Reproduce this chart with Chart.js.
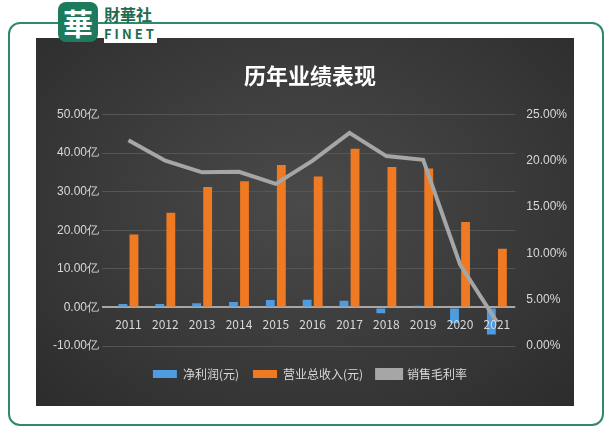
<!DOCTYPE html>
<html><head><meta charset="utf-8">
<script src="https://cdn.jsdelivr.net/npm/chart.js"></script>
<style>
body{margin:0;width:612px;height:448px;background:#fff;position:relative;overflow:hidden;font-family:"Noto Sans CJK SC",sans-serif}
#frame{position:absolute;left:8px;top:22px;width:592px;height:400px;border:2px solid #2f8a6c;border-radius:12px;background:#fff}
#panel{position:absolute;left:36px;top:38px;width:538px;height:368px;background:radial-gradient(ellipse at 50% 45%,#4a4a4a 0%,#3a3a3a 55%,#2c2c2c 100%)}
#logo{position:absolute;left:58px;top:2px;width:40px;height:40px;background:#1e7a5c;border-radius:8px;color:#fff;font-size:30px;line-height:40px;text-align:center;font-weight:bold}
#lt{position:absolute;left:104px;top:6px;color:#1e6b50;font-size:16px;font-weight:bold;line-height:16px;background:#fff}
#lt2{position:absolute;left:104px;top:24px;color:#1e6b50;font-size:13px;font-weight:bold;letter-spacing:3px;background:#fff}
#c{position:absolute;left:36px;top:38px}
</style></head><body>
<div id="frame"></div><div id="panel"></div>
<div id="logo">華</div><div id="lt">財華社</div><div id="lt2">FINET</div>
<canvas id="c" width="538" height="368"></canvas>
<script>
const years=["2011","2012","2013","2014","2015","2016","2017","2018","2019","2020","2021"];
const netProfit=[0.9,0.9,1.1,1.4,1.9,2.0,1.7,-1.5,0.4,-4.1,-7.0];
const revenue=[18.9,24.5,31.2,32.7,36.9,33.9,41.1,36.4,36.0,22.1,15.2];
const grossMargin=[22.2,20.0,18.75,18.8,17.5,20.0,23.0,20.5,20.1,8.8,2.6];
const fc='#d9d9d9';
const xLabels={id:'xLabels',afterDatasetsDraw(ch){const c=ch.ctx,x=ch.scales.x,y=ch.scales.y;const y0=y.getPixelForValue(0)+17;
 c.save();c.fillStyle=fc;c.font='12px "Noto Sans CJK SC"';c.textAlign='center';c.textBaseline='middle';
 years.forEach((t,i)=>c.fillText(t,x.getPixelForValue(i),y0));c.restore();}};
new Chart(document.getElementById('c'),{
data:{labels:years,datasets:[
{type:'bar',label:'净利润(元)',data:netProfit,backgroundColor:'#4f9be0',yAxisID:'y',barPercentage:0.8,categoryPercentage:0.6,order:1},
{type:'bar',label:'营业总收入(元)',data:revenue,backgroundColor:'#ef7a22',yAxisID:'y',barPercentage:0.8,categoryPercentage:0.6,order:1},
{type:'line',label:'销售毛利率',data:grossMargin,yAxisID:'y1',borderColor:'#a6a6a6',backgroundColor:'#a6a6a6',borderWidth:4,pointRadius:0,tension:0,order:0}
]},
plugins:[xLabels],
options:{responsive:false,animation:false,
layout:{padding:{left:14,right:4,top:4,bottom:16}},
plugins:{title:{display:true,text:'历年业绩表现',color:'#fff',font:{size:22,family:'Noto Sans CJK SC'},padding:{top:20,bottom:26}},
legend:{position:'bottom',labels:{color:fc,boxWidth:24,boxHeight:8,padding:14,font:{size:12,family:'Noto Sans CJK SC'},
 sort:(a,b)=>a.datasetIndex-b.datasetIndex,
 generateLabels:ch=>{const l=Chart.defaults.plugins.legend.labels.generateLabels(ch);l.forEach(e=>{if(e.datasetIndex===2){e.lineWidth=4;e.fillStyle='#a6a6a6';}});return l;}}}},
scales:{
x:{grid:{display:false},border:{display:false},ticks:{display:false}},
y:{min:-10,max:50,ticks:{stepSize:10,color:fc,font:{size:12},callback:v=>v.toFixed(2)+'亿'},
 grid:{color:c=>c.tick.value===0?'#a6a6a6':'#555',lineWidth:c=>c.tick.value===0?2:1},border:{display:false}},
y1:{position:'right',min:0,max:25,ticks:{stepSize:5,color:fc,font:{size:12},callback:v=>v.toFixed(2)+'%'},grid:{display:false},border:{display:false}}
}}});
</script></body></html>
